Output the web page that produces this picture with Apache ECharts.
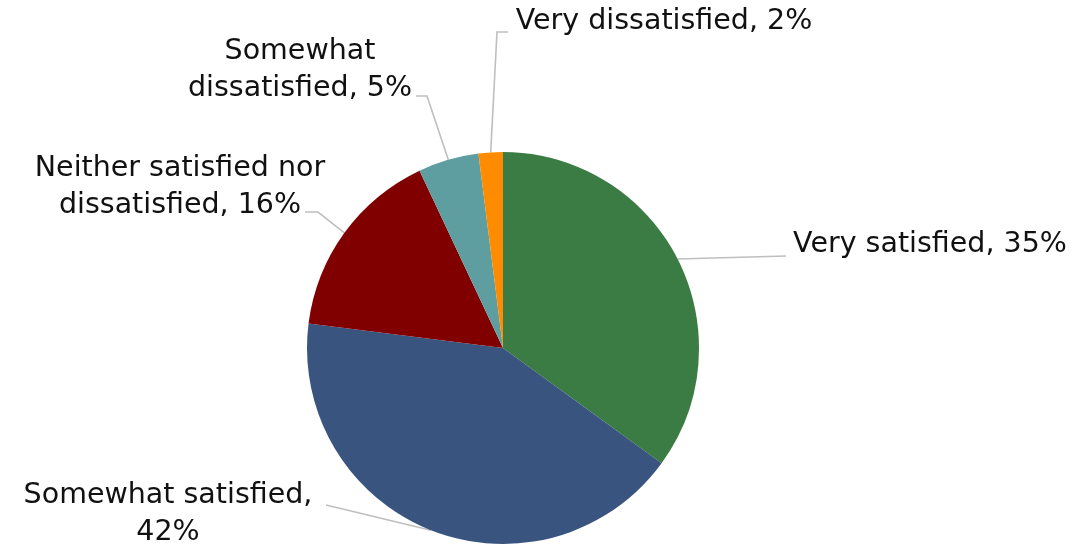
<!DOCTYPE html>
<html>
<head>
<meta charset="utf-8">
<script src="https://cdn.jsdelivr.net/npm/echarts@6/dist/echarts.min.js"></script>
<style>
  html, body { margin: 0; padding: 0; background: #ffffff; }
  #chart { width: 1076px; height: 548px; }
</style>
</head>
<body>
<div id="chart"></div>
<script>
// Survey responses: overall satisfaction
const categories = [
  'Very satisfied',
  'Somewhat satisfied',
  'Neither satisfied nor\ndissatisfied',
  'Somewhat\ndissatisfied',
  'Very dissatisfied'
];
const shares = [35, 42, 16, 5, 2];
const sliceColors = ['#3a7c43', '#3a5480', '#800000', '#5f9ea0', '#ff8c00'];

// Where each callout sits (text centre) and how its leader bends
const calloutPlacement = [
  { x: 930, y: 245, bend: null,        end: [786, 256] },
  { x: 168, y: 514, bend: null,        end: [326, 505] },
  { x: 180, y: 187, bend: [318, 212],  end: [305, 212] },
  { x: 300, y: 70,  bend: [427, 96],   end: [416, 96] },
  { x: 664, y: 22,  bend: [497, 32],   end: [508, 32] }
];

const chart = echarts.init(document.getElementById('chart'), null, { renderer: 'canvas' });

chart.setOption({
  backgroundColor: '#ffffff',
  animation: false,
  series: [{
    type: 'pie',
    center: [503, 348],
    radius: 196,
    startAngle: 90,
    clockwise: true,
    avoidLabelOverlap: false,
    itemStyle: { borderWidth: 0 },
    label: {
      show: true,
      position: 'outside',
      formatter: function (p) {
        const name = p.name;
        if (p.dataIndex === 1) return name + ',\n' + p.value + '%';
        return name + ', ' + p.value + '%';
      },
      fontFamily: 'DejaVu Sans',
      fontSize: 28.5,
      lineHeight: 37,
      color: '#111111',
      align: 'center'
    },
    labelLine: {
      show: true,
      length: 20,
      length2: 20,
      lineStyle: { color: '#bfbfbf', width: 1.6 }
    },
    labelLayout: function (params) {
      const c = calloutPlacement[params.dataIndex];
      const start = params.labelLinePoints ? params.labelLinePoints[0] : null;
      const pts = [];
      if (start) pts.push(start);
      if (c.bend) pts.push(c.bend);
      pts.push(c.end);
      return {
        x: c.x,
        y: c.y,
        align: 'center',
        verticalAlign: 'middle',
        labelLinePoints: pts
      };
    },
    data: categories.map(function (name, i) {
      return { name: name, value: shares[i], itemStyle: { color: sliceColors[i] } };
    })
  }]
});
</script>
</body>
</html>
